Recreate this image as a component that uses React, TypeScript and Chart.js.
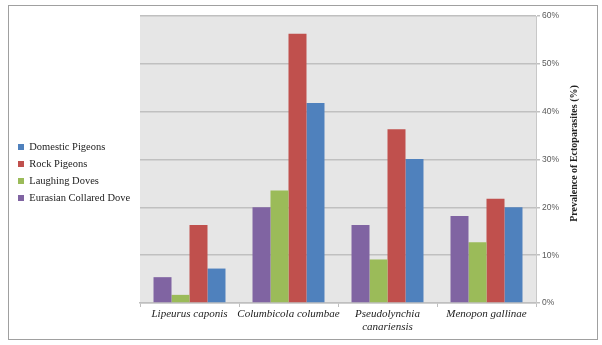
import React, { useEffect, useRef } from "react";
import { Chart, registerables } from "chart.js";

Chart.register(...registerables);

const categories: (string | string[])[] = [
  "Lipeurus caponis",
  "Columbicola columbae",
  ["Pseudolynchia", "canariensis"],
  "Menopon gallinae",
];
const eurasianCollaredDove = [5.4, 20.0, 16.3, 18.2];
const laughingDoves = [1.7, 23.5, 9.1, 12.7];
const rockPigeons = [16.3, 56.3, 36.3, 21.8];
const domesticPigeons = [7.2, 41.8, 30.1, 20.0];
const yMax = 60;
const yStep = 10;
const yTitle = "Prevalence of Ectoparasites (%)";

const plotBg = {
  id: "plotBg",
  beforeDraw(chart: any) {
    const { ctx, chartArea } = chart;
    ctx.save();
    ctx.fillStyle = "#e6e6e6";
    ctx.fillRect(chartArea.left, chartArea.top, chartArea.right - chartArea.left, chartArea.bottom - chartArea.top);
    ctx.restore();
  },
};

const legendWidth = {
  id: "legendWidth",
  beforeUpdate(chart: any) {
    const lg = chart.legend;
    if (lg && !lg.__patched) {
      const orig = lg.fit.bind(lg);
      lg.fit = function () {
        orig();
        this.width = 126.5;
      };
      const origDraw = lg.draw.bind(lg);
      lg.draw = function () {
        const c = this.ctx;
        c.save();
        c.translate(-2, -5);
        origDraw();
        c.restore();
      };
      lg.__patched = true;
    }
  },
};

const rightTitle = {
  id: "rightTitle",
  afterDraw(chart: any) {
    const { ctx, chartArea } = chart;
    const ys = chart.scales.y;
    ctx.save();
    ctx.translate(ys.right - 23, (chartArea.top + chartArea.bottom) / 2 - 6);
    ctx.rotate(-Math.PI / 2);
    ctx.textAlign = "center";
    ctx.textBaseline = "middle";
    ctx.font = 'bold 10px "Liberation Serif"';
    ctx.fillStyle = "#222222";
    ctx.fillText(yTitle, 0, 0);
    ctx.restore();
  },
};

export default function App() {
  const ref = useRef<HTMLCanvasElement | null>(null);
  useEffect(() => {
    if (!ref.current) return;
    const chart = new Chart(ref.current, {
      type: "bar",
      data: {
        labels: categories as any,
        datasets: [
          { label: "Eurasian Collared Dove", data: eurasianCollaredDove, backgroundColor: "#8064a2" },
          { label: "Laughing Doves", data: laughingDoves, backgroundColor: "#9bbb59" },
          { label: "Rock Pigeons", data: rockPigeons, backgroundColor: "#c0504d" },
          { label: "Domestic Pigeons", data: domesticPigeons, backgroundColor: "#4f81bd" },
        ],
      },
      options: {
        animation: false,
        responsive: true,
        maintainAspectRatio: false,
        layout: { padding: { left: 4.5, top: 10, right: 0, bottom: 0 } },
        datasets: { bar: { categoryPercentage: 0.727, barPercentage: 1, borderWidth: 0 } },
        plugins: {
          tooltip: { enabled: false },
          legend: {
            position: "left",
            align: "center",
            reverse: true,
            labels: {
              boxWidth: 6,
              boxHeight: 6,
              padding: 6.5,
              color: "#222222",
              font: { family: '"Liberation Serif"', size: 10.5 },
            },
          },
        },
        scales: {
          x: {
            afterFit: (s: any) => { s.height = 36; },
            grid: {
              display: true,
              drawOnChartArea: false,
              drawTicks: true,
              tickLength: 4,
              color: "#bfbfbf",
              offset: true,
            },
            border: { display: true, color: "#bfbfbf", width: 1.5 },
            ticks: {
              padding: 1,
              color: "#222222",
              maxRotation: 0,
              autoSkip: false,
              font: { family: '"Liberation Serif"', size: 11, style: "italic", lineHeight: 1.15 },
            },
          },
          y: {
            position: "right",
            min: 0,
            max: yMax,
            afterFit: (s: any) => { s.width = 61; },
            grid: {
              color: "#c0c0c0",
              lineWidth: 1.5,
              drawTicks: true,
              tickLength: 4,
            },
            border: { display: true, color: "#c8c8c8", width: 1 },
            ticks: {
              stepSize: yStep,
              padding: 2,
              color: "#595959",
              font: { family: '"Liberation Sans"', size: 8.5 },
              callback: (v: any) => `${v}%`,
            },
          },
        },
      },
      plugins: [plotBg, legendWidth, rightTitle],
    });
    return () => chart.destroy();
  }, []);

  return (
    <div
      style={{
        position: "absolute",
        left: 8,
        top: 5,
        width: 590,
        height: 335,
        border: "1px solid #a0a0a0",
        boxSizing: "border-box",
        background: "#ffffff",
      }}
    >
      <div style={{ position: "relative", width: 588, height: 333 }}>
        <canvas ref={ref} />
      </div>
    </div>
  );
}
